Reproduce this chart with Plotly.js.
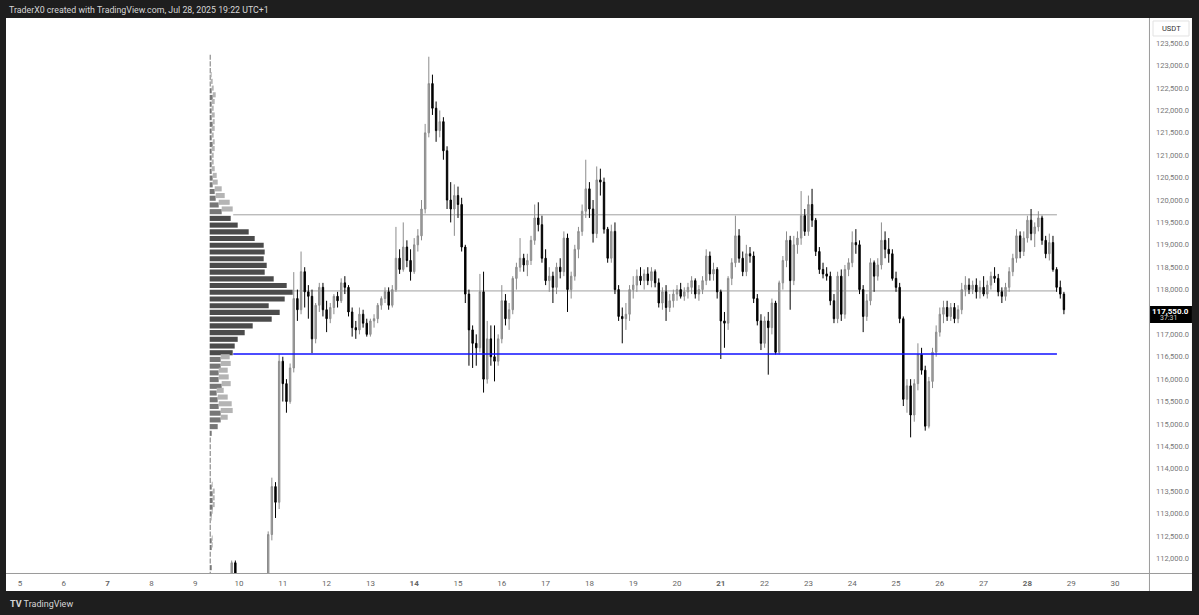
<!DOCTYPE html>
<html>
<head>
<meta charset="utf-8">
<script src="https://cdn.plot.ly/plotly-3.0.1.min.js"></script>
<style>
html,body{margin:0;padding:0;background:#1e1e1e;overflow:hidden;}
#chart{width:1199px;height:615px;}
</style>
</head>
<body>
<div id="chart"></div>
<script>
// ---------------- DATA ----------------
// 2-hour BTC/USDT candles, first candle opens 2025-07-09 12:00 (UTC+1)
const FIRST_CANDLE_UTC = [2025, 6, 9, 12];   // year, month(0-based), day, hour
const CANDLE_HOURS = 2;
const FIRST_OPEN = 109300;

const closes = [
109500,110100,110600,111100,111900,111300,111100,111300,111000,111200,111400,111100,111300,111350,
112530,113600,113250,116400,115900,115500,116250,117800,117550,118400,117950,117850,116900,117650,118050,117550,
117350,117600,117850,117750,118150,118050,117500,117150,117100,117450,117250,117000,117300,117350,117650,117800,
117950,117650,118000,118700,118450,118950,118650,118400,119000,119200,119800,121500,122600,122050,121550,121750,
121100,120000,119800,120100,119900,118950,117900,117100,116800,116700,117950,116000,116900,116500,116400,116900,
117750,117350,117550,118250,118500,118700,118550,118650,119100,119600,119450,118700,118200,118300,118050,118500,
118400,119150,118000,118300,118900,119300,119750,120250,119800,119250,120450,120400,119350,118700,119300,118000,
117400,117350,117450,118000,118100,118300,118200,118350,118200,118400,118150,117700,117950,117600,117750,117900,
118000,117850,117950,118050,118200,117900,118000,118200,118750,118350,118450,117950,117300,117250,118250,118600,
119200,118700,118400,118800,118750,117800,117300,116800,117300,117150,117700,116600,118150,118650,119100,118200,
119000,119150,119650,119300,119900,119550,118850,118450,118350,118300,117750,117350,118300,117450,118450,118600,
119050,119000,118000,117400,117750,118600,118300,118550,119100,118900,118800,118250,118050,117350,115550,115850,
115200,115900,116550,116200,114950,115950,116600,117050,117450,117600,117400,117600,117350,117550,118000,118100,
118000,118100,117950,118050,117900,118100,118300,118250,117950,117850,118050,118400,118700,119200,118850,119150,
119550,119250,119400,119600,119100,118800,119050,118450,118050,117900,117550
];
const highs = [
109700,110200,110800,111300,111950,111950,111500,111450,111400,111350,111550,111500,111500,111550,
112600,113800,113700,116550,116500,116000,116350,118390,118000,118850,118500,118100,118000,117700,118150,118150,
117750,117700,117900,117950,118250,118300,118100,117600,117300,117600,117550,117350,117350,117450,117700,117850,
118050,118050,118100,119400,118900,119500,119100,118900,119150,119350,120000,121700,123200,122800,122200,122000,
121850,121200,120400,120350,120300,120050,119000,118000,117200,117000,118350,118400,117300,117200,117200,117000,
118100,117900,117700,118300,118600,119150,118800,118800,119200,119900,119950,119650,118900,118500,118400,118600,
118700,119300,119250,118400,119000,119400,119900,120900,120400,120000,120750,120700,120500,119400,119450,119500,
118100,117600,117700,118100,118300,118450,118500,118450,118500,118500,118450,118250,118050,118100,117900,118000,
118100,118150,118050,118150,118300,118250,118100,118300,118900,118850,118600,118500,118000,117500,118300,118700,
119650,119350,118850,119000,118950,118850,117900,117450,117400,117500,117800,117750,118200,118750,119300,119200,
119200,119300,120200,119800,120100,120250,119600,118950,118600,118500,118400,117900,118400,118450,118550,118700,
119300,119350,119100,118100,117900,118700,118650,118700,119500,119300,119150,118900,118400,118150,117400,116000,
116000,116000,116800,116700,116300,116050,116700,117200,117600,117750,117750,117700,117700,117650,118150,118300,
118250,118200,118250,118200,118300,118200,118400,118500,118350,118050,118150,118500,118800,119350,119300,119300,
119650,119800,119500,119750,119650,119200,119250,119200,118500,118200,117950
];
const lows = [
109000,109400,110000,110400,111000,111100,110800,110900,110700,110900,111000,110900,111000,111100,
111250,112400,112900,113100,115500,115250,115450,116150,117300,117450,117600,117350,116580,116800,117500,117400,
117050,117250,117450,117600,117700,117900,117400,116950,116900,117000,117150,116950,116950,117150,117250,117550,
117700,117550,117600,117950,118350,118400,118500,118200,118350,118850,119100,119700,121400,121900,121300,121400,
120900,119800,119500,119200,119600,118850,117700,116300,116250,116300,116600,115700,115900,116300,115950,116300,
116800,117200,117100,117450,118000,118400,118400,118300,118550,119000,119300,118600,118100,117950,117700,117900,
118250,118300,117500,117800,118200,118700,119200,119600,119600,119050,119150,120100,119250,118600,118600,117900,
117300,116800,117100,117300,117800,117950,118100,118000,118100,118050,118050,117600,117550,117300,117500,117600,
117750,117800,117750,117800,117900,117800,117750,117900,118100,118200,118200,117800,116450,116700,117100,118100,
118500,118600,118300,118300,118600,117700,117200,116650,116700,116100,117000,116550,116550,118000,118500,117550,
118100,118800,119000,119200,119200,119400,118750,118350,118250,118200,117650,117250,117250,117300,117350,118300,
118500,118800,117900,117050,117300,117650,117950,118200,118450,118700,118600,118200,117950,117250,115400,115250,
114700,115050,115750,116100,114850,114900,115800,116500,116950,117250,117300,117300,117250,117250,117450,117850,
117900,117900,117800,117800,117850,117800,118000,118150,117850,117700,117750,117950,118300,118600,118700,118750,
119050,119100,118950,119300,119000,118700,118650,118400,117950,117800,117450
];

// Visible-range volume profile (rows of 150 USDT), from the top row down
const PROFILE_TOP_ROW = 123220;      // centre price of the highest row
const PROFILE_ROW = 150;             // price height of one row
const profileUpVol = [
1,1,1,1,1,2,3,2,2,2,3,2,2,3,2,2,2,2,3,3,5,6,9,12,
21,28,39,45,54,55,54,57,55,64,77,83,75,59,70,62,43,35,28,25,23,
11,11,9,9,12,7,8,9,11,11,8,2,1,1,1,1,1,1,1,2,3,3,3,2,1,1,1,2,2,1,1,2,1
];
const profileDownVol = [
0,0,0,1,2,2,3,3,2,3,2,3,2,2,3,2,2,3,4,5,7,9,11,11,
0,0,0,0,0,0,0,0,0,0,0,0,0,0,0,0,0,0,0,0,0,
9,10,9,10,9,7,10,13,12,7,0,0,0,0,0,0,0,0,0,1,2,2,2,1,1,0,0,1,1,0,0,0,0
];
const VAH = 119670;   // value area high
const POC = 117970;   // point of control
const VAL = 116560;   // value area low (blue level)

const LAST_PRICE_COUNTDOWN = '37:31';
const DAY_TICKS = [5,6,7,8,9,10,11,12,13,14,15,16,17,18,19,20,21,22,23,24,25,26,27,28,29,30];
const BOLD_DAYS = [7,14,21,28];
const PRICE_TICKS = [112000,112500,113000,113500,114000,114500,115000,115500,116000,116500,117000,
                     118000,118500,119000,119500,120000,120500,121000,121500,122000,122500,123000,123500];

// ---------------- BUILD ----------------
function fmtDate(ms){
  const d = new Date(ms);
  const p = n => String(n).padStart(2,'0');
  return d.getUTCFullYear()+'-'+p(d.getUTCMonth()+1)+'-'+p(d.getUTCDate())+' '+p(d.getUTCHours())+':'+p(d.getUTCMinutes());
}
const t0 = Date.UTC(FIRST_CANDLE_UTC[0],FIRST_CANDLE_UTC[1],FIRST_CANDLE_UTC[2],FIRST_CANDLE_UTC[3]);
const times = closes.map((_,i)=>fmtDate(t0 + i*CANDLE_HOURS*3600e3));
const opens = closes.map((_,i)=> i===0 ? FIRST_OPEN : closes[i-1]);

const rowPrices = profileUpVol.map((_,i)=>PROFILE_TOP_ROW - i*PROFILE_ROW);
const inVA = p => p <= VAH && p >= VAL;
const upColors = rowPrices.map(p => inVA(p) ? '#4b4b4b' : '#777777');
const downColors = rowPrices.map(p => inVA(p) ? '#575757' : '#b4b4b4');

const fmtPrice = v => v.toLocaleString('en-US',{minimumFractionDigits:1,maximumFractionDigits:1});
const lastPrice = closes[closes.length-1];

const traces = [
  {
    type:'candlestick', x:times, open:opens, high:highs, low:lows, close:closes,
    increasing:{line:{color:'#8c8c8c',width:1}, fillcolor:'#a2a2a2'},
    decreasing:{line:{color:'#000000',width:1}, fillcolor:'#000000'},
    whiskerwidth:0, hoverinfo:'skip', showlegend:false
  },
  {
    type:'bar', orientation:'h', xaxis:'x2', yaxis:'y',
    y:rowPrices, x:profileUpVol, width:PROFILE_ROW*0.76,
    marker:{color:upColors, line:{width:0}}, hoverinfo:'skip', showlegend:false
  },
  {
    type:'bar', orientation:'h', xaxis:'x2', yaxis:'y',
    y:rowPrices, x:profileDownVol, base:profileUpVol, width:PROFILE_ROW*0.76,
    marker:{color:downColors, line:{width:0}}, hoverinfo:'skip', showlegend:false
  }
];

const dayDate = d => '2025-07-'+String(d).padStart(2,'0')+' 00:00';
const FONT = 'Roboto, "Liberation Sans", sans-serif';

const lineStart = '2025-07-09 20:50';
const pocStart = '2025-07-11 05:40';
const lineEnd = '2025-07-28 16:10';

const shapes = [
  // white chart panel
  {type:'rect', xref:'paper', yref:'paper', x0:0, x1:1.0376, y0:-0.0324, y1:1.0, fillcolor:'#ffffff', line:{width:0}, layer:'below'},
  // levels
  {type:'line', xref:'x', yref:'y', x0:lineStart, x1:lineEnd, y0:VAH, y1:VAH, line:{color:'#a0a0a0', width:1}, layer:'below'},
  {type:'line', xref:'x', yref:'y', x0:pocStart, x1:lineEnd, y0:POC, y1:POC, line:{color:'#a0a0a0', width:1}, layer:'below'},
  {type:'line', xref:'x', yref:'y', x0:lineStart, x1:lineEnd, y0:VAL, y1:VAL, line:{color:'#1010ff', width:1.5}, layer:'above'},
  // separators
  {type:'line', xref:'paper', yref:'paper', x0:1.0004, x1:1.0004, y0:-0.0324, y1:1.0, line:{color:'#9a9a9a', width:1}},
  {type:'line', xref:'paper', yref:'paper', x0:0, x1:1.0376, y0:-0.0009, y1:-0.0009, line:{color:'#9a9a9a', width:1}},
  // USDT box
  {type:'rect', xref:'paper', yref:'paper', x0:1.0035, x1:1.0350, y0:0.9676, y1:0.9946, fillcolor:'#ffffff', line:{color:'#e2e2e2', width:1}},
  // last price box
  {type:'rect', xref:'paper', yref:'paper', x0:1.0009, x1:1.0376, y0:0.4505, y1:0.4811, fillcolor:'#000000', line:{width:0}}
];

const annotations = [
  {xref:'paper', yref:'paper', x:0.001, y:1.0144, xanchor:'left', yanchor:'middle', showarrow:false,
   text:'TraderX0 created with TradingView.com, Jul 28, 2025 19:22 UTC+1', font:{family:FONT, size:8.8, color:'#d6d6d6'}},
  {xref:'paper', yref:'paper', x:0.0015, y:-0.0559, xanchor:'left', yanchor:'middle', showarrow:false,
   text:'<b>TV</b> TradingView', font:{family:FONT, size:9, color:'#d6d6d6'}},
  {xref:'paper', yref:'paper', x:1.0193, y:0.9811, xanchor:'center', yanchor:'middle', showarrow:false,
   text:'USDT', font:{family:FONT, size:7.5, color:'#333333'}},
  {xref:'paper', yref:'paper', x:1.0190, y:0.4715, xanchor:'center', yanchor:'middle', showarrow:false,
   text:'<b>'+fmtPrice(lastPrice)+'</b>', font:{family:FONT, size:8, color:'#ffffff'}},
  {xref:'paper', yref:'paper', x:1.0080, y:0.4590, xanchor:'left', yanchor:'middle', showarrow:false,
   text:LAST_PRICE_COUNTDOWN, font:{family:FONT, size:7, color:'#d0d0d0'}}
];

const layout = {
  width:1199, height:615,
  margin:{l:6, r:50, t:18, b:42, pad:0},
  paper_bgcolor:'#1e1e1e',
  plot_bgcolor:'#ffffff',
  showlegend:false,
  dragmode:false,
  boxgap:0.45,
  xaxis:{
    type:'date', range:['2025-07-04 16:20','2025-07-30 18:37'],
    tickmode:'array', tickvals:DAY_TICKS.map(dayDate),
    ticktext:DAY_TICKS.map(d => BOLD_DAYS.includes(d) ? '<b>'+d+'</b>' : String(d)),
    tickfont:{family:FONT, size:8, color:'#666666'},
    showgrid:false, zeroline:false, showline:false, ticks:'', ticklabelstandoff:4,
    rangeslider:{visible:false}, fixedrange:true
  },
  xaxis2:{overlaying:'x', range:[-203.7, 939.3], visible:false, fixedrange:true},
  yaxis:{
    side:'right', range:[111671, 124065],
    tickmode:'array', tickvals:PRICE_TICKS, ticktext:PRICE_TICKS.map(fmtPrice),
    tickfont:{family:FONT, size:7.5, color:'#777777'},
    showgrid:false, zeroline:false, showline:false, ticks:'', ticklabelstandoff:6, fixedrange:true
  },
  shapes:shapes,
  annotations:annotations
};

Plotly.newPlot('chart', traces, layout, {displayModeBar:false, staticPlot:true});
</script>
</body>
</html>
